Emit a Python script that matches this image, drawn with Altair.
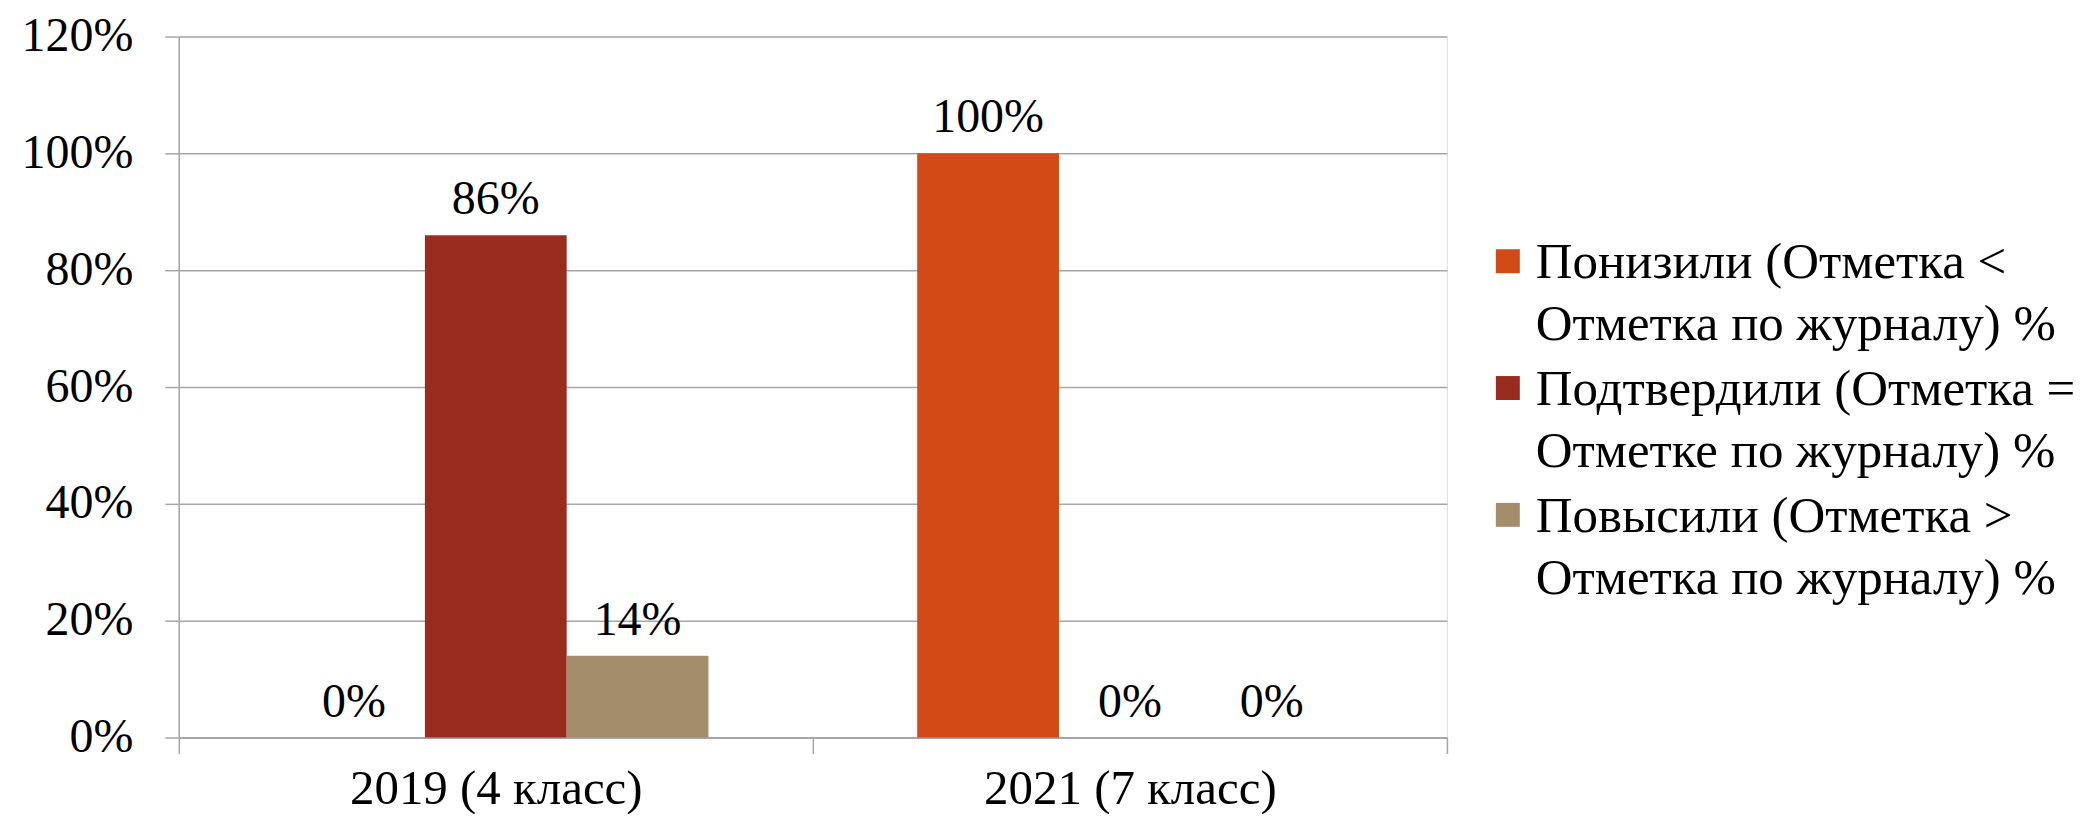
import altair as alt
import pandas as pd

categories = ["2019 (4 класс)", "2021 (7 класс)"]
series = [
    "Понизили (Отметка < Отметка по журналу) %",
    "Подтвердили (Отметка = Отметке по журналу) %",
    "Повысили (Отметка > Отметка по журналу) %",
]
legend_labels = [
    "Понизили (Отметка <\nОтметка по журналу) %",
    "Подтвердили (Отметка =\nОтметке по журналу) %",
    "Повысили (Отметка >\nОтметка по журналу) %",
]
values_2019 = [0.00, 0.86, 0.14]
values_2021 = [1.00, 0.00, 0.00]
colors = ["#D24B17", "#9A2C1F", "#A38D6B"]
y_ticks = [0, 0.2, 0.4, 0.6, 0.8, 1.0, 1.2]

FONT = "Liberation Serif"
GRAY = "#A6A6A6"

rows = []
for cat, vals in zip(categories, [values_2019, values_2021]):
    for s, v in zip(series, vals):
        rows.append({"category": cat, "series": s, "value": v})
df = pd.DataFrame(rows)

leg = pd.DataFrame({"series": series, "label": legend_labels, "idx": list(range(len(series)))})

color = alt.Color("series:N", sort=series, scale=alt.Scale(domain=series, range=colors), legend=None)

x_enc = alt.X(
    "category:N",
    sort=categories,
    scale=alt.Scale(paddingInner=0, paddingOuter=0),
    axis=alt.Axis(
        title=None, labelAngle=0, tickBand="extent", tickSize=16, labelPadding=11,
        labelFontSize=49, labelFont=FONT, labelColor="black", labelFontWeight="normal",
        labelLimit=1000,
        domainColor=GRAY, domainWidth=2, tickColor=GRAY, tickWidth=1.5, grid=False,
    ),
)
xoff = alt.XOffset("series:N", sort=series, scale=alt.Scale(domain=series, paddingInner=0, paddingOuter=0.736))
y_enc = alt.Y(
    "value:Q",
    scale=alt.Scale(domain=[0, 1.2], nice=False),
    axis=alt.Axis(
        values=y_ticks, format=".0%", title=None, tickSize=14, labelPadding=32,
        labelFontSize=48, labelFont=FONT, labelColor="black",
        domainColor=GRAY, domainWidth=1.5, tickColor=GRAY, tickWidth=1.5,
        grid=True, gridColor=GRAY, gridWidth=1.5,
    ),
)

bars = alt.Chart(df).mark_bar().encode(x=x_enc, xOffset=xoff, y=y_enc, color=color)
labels = alt.Chart(df).mark_text(
    baseline="alphabetic", dy=-21, fontSize=48, font=FONT, color="black"
).encode(x=x_enc, xOffset=xoff, y=y_enc, text=alt.Text("value:Q", format=".0%"))

main = alt.layer(bars, labels)

leg_y = alt.Y("idx:Q", axis=None, scale=alt.Scale(domain=[0, 2], range=[225, 479]))
leg_sq = alt.Chart(leg).mark_square(size=576, opacity=1).encode(
    x=alt.value(1331), y=leg_y, color=color
)
leg_tx = alt.Chart(leg).mark_text(
    align="left", baseline="alphabetic", dy=17, fontSize=51, font=FONT,
    color="black", lineBreak="\n", lineHeight=62,
).encode(x=alt.value(1359), y=leg_y, text="label:N")
legend = alt.layer(leg_sq, leg_tx)

chart = (
    alt.layer(main, legend)
    .resolve_scale(y="independent")
    .properties(width=1270, height=702, padding={"left": 13, "top": 4, "right": 0, "bottom": 0})
    .configure_view(stroke=None)
    .configure(font=FONT)
)

chart.save("out.html", embed_options={"renderer": "svg", "actions": False})
